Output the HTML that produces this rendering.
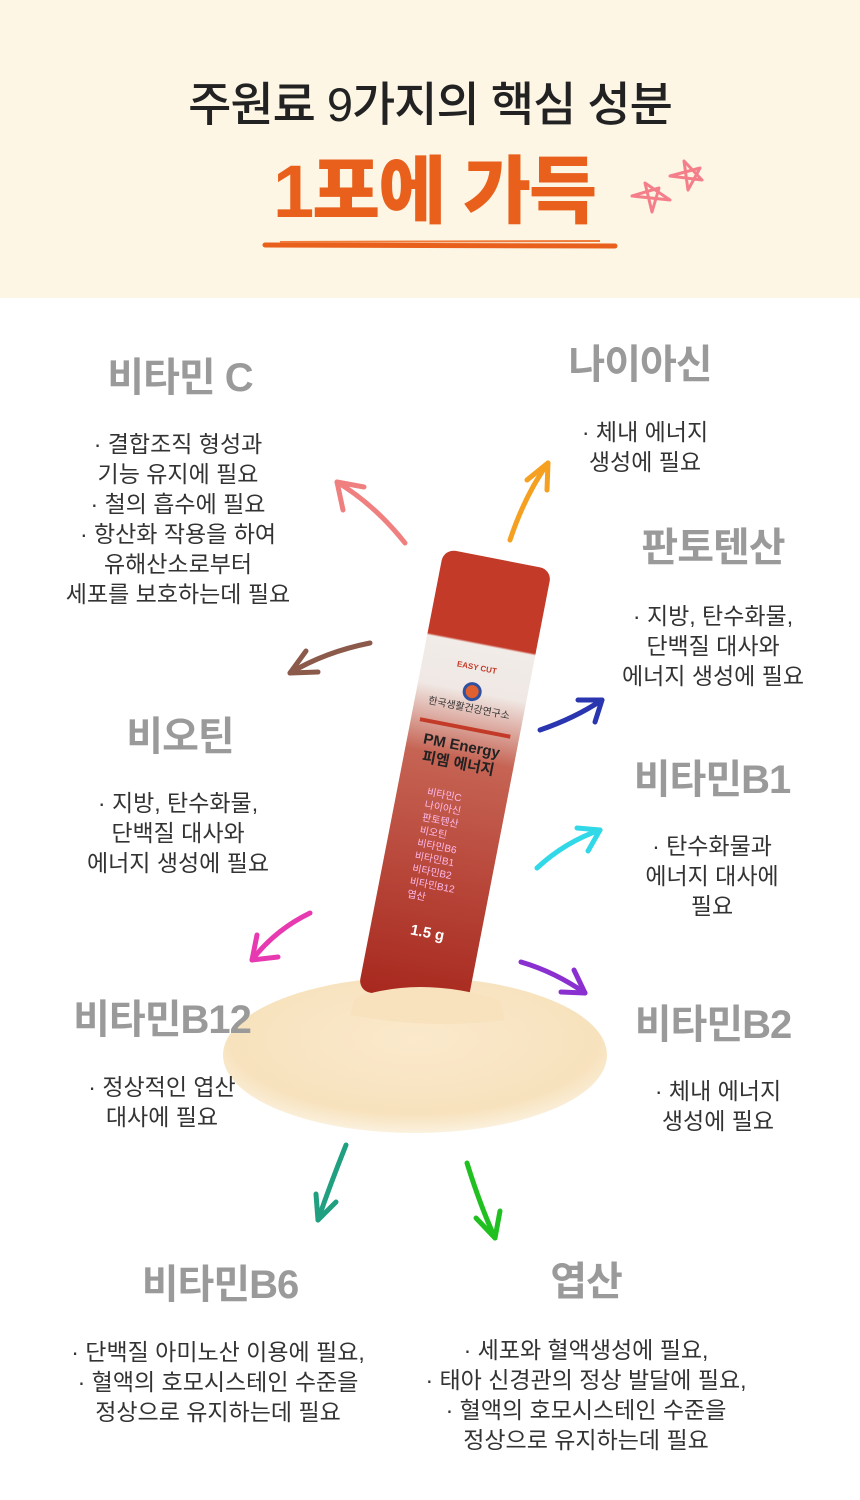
<!DOCTYPE html>
<html><head><meta charset="utf-8"><style>
html,body{margin:0;padding:0}
body{width:860px;height:1500px;position:relative;background:#fff;overflow:hidden;font-family:"Liberation Sans","Noto Sans CJK KR",sans-serif}
.hd{position:absolute;left:0;top:0;width:860px;height:298px;background:#fdf6e5}
.t{position:absolute;width:400px;text-align:center;white-space:nowrap}
.lb{font-size:40px;font-weight:bold;color:#9a9a9a;line-height:44px;letter-spacing:-1px}
.bd{font-size:23px;color:#333;line-height:30px}
</style></head><body>
<div class="hd"></div>
<div class="t" style="left:130px;width:600px;top:78px;font-size:47px;color:#222;line-height:54px;font-weight:500;letter-spacing:-1px">주원료 9가지의 핵심 성분</div>
<div class="t" style="left:234px;top:150px;font-size:74px;font-weight:900;color:#e8601c;line-height:84px;letter-spacing:-2px">1포에 가득</div>
<svg width="860" height="1500" style="position:absolute;left:0;top:0">
<path d="M265 245 L615 246" stroke="#e8601c" stroke-width="5" stroke-linecap="round"/>
<path d="M280 242 L600 241" stroke="#ef7a3a" stroke-width="2"/>
<g fill="none" stroke="#f47f8a" stroke-width="3" stroke-linecap="round" stroke-linejoin="round">
<path d="M652 212 L645 183 L670 200 L632 196 L659 188 Z"/>
<path d="M688 190 L684 161 L702 180 L670 176 L700 168 Z"/>
</g>
<defs>
<radialGradient id="pw" cx="50%" cy="40%" r="60%"><stop offset="0" stop-color="#fbe9cc"/><stop offset="0.8" stop-color="#f7e2bd"/><stop offset="1" stop-color="#fbf1de"/></radialGradient>
<linearGradient id="st" x1="0" y1="0" x2="0" y2="1"><stop offset="0" stop-color="#c43a28"/><stop offset="0.19" stop-color="#c43a28"/><stop offset="0.195" stop-color="#f1ece8"/><stop offset="0.3" stop-color="#f0e8e4"/><stop offset="0.45" stop-color="#c66454"/><stop offset="1" stop-color="#a8281e"/></linearGradient>
</defs>
<ellipse cx="415" cy="1055" rx="192" ry="78" fill="url(#pw)"/>
<g transform="translate(455 780) rotate(11)">
<rect x="-55" y="-225" width="110" height="450" rx="12" fill="url(#st)"/>
<rect x="-46" y="-55" width="92" height="4" fill="#c43a28"/>
<circle cx="0" cy="-90" r="8" fill="#e06030" stroke="#3050a0" stroke-width="3"/>
<text x="0" y="-112" font-size="8" fill="#c43a28" text-anchor="middle" font-weight="bold">EASY CUT</text>
<text x="0" y="-70" font-size="10" fill="#333" text-anchor="middle">한국생활건강연구소</text>
<text x="0" y="-30" font-size="15" fill="#222" text-anchor="middle" font-weight="bold">PM Energy</text>
<text x="0" y="-12" font-size="15" fill="#222" text-anchor="middle" font-weight="bold">피엠 에너지</text>
<g font-size="10" fill="#fbe" text-anchor="start">
<text x="-25" y="20">비타민C</text><text x="-25" y="33">나이아신</text><text x="-25" y="46">판토텐산</text><text x="-25" y="59">비오틴</text><text x="-25" y="72">비타민B6</text><text x="-25" y="85">비타민B1</text><text x="-25" y="98">비타민B2</text><text x="-25" y="111">비타민B12</text><text x="-25" y="124">엽산</text>
</g>
<text x="-15" y="160" font-size="15" fill="#fff" font-weight="bold">1.5 g</text>
</g>
<path d="M355 998 Q420 975 500 1000 L505 1020 Q430 1030 350 1015 Z" fill="#f7e2bd"/>
<g fill="none" stroke-width="5" stroke-linecap="round" stroke-linejoin="round">
<g stroke="#f08080"><path d="M405 543 Q375 505 337 482"/><path d="M337 482 L343 510 M337 482 L364 487"/></g>
<g stroke="#f5a020"><path d="M510 540 Q525 495 548 463"/><path d="M548 463 L527 480 M548 463 L547 490"/></g>
<g stroke="#8b5a4a"><path d="M370 643 Q325 652 290 673"/><path d="M290 673 L306 651 M290 673 L318 672"/></g>
<g stroke="#2a35b0"><path d="M540 730 Q575 718 602 700"/><path d="M602 700 L578 700 M602 700 L595 722"/></g>
<g stroke="#30d8e8"><path d="M537 868 Q565 842 600 830"/><path d="M600 830 L577 828 M600 830 L588 851"/></g>
<g stroke="#e83ab0"><path d="M310 913 Q275 930 252 960"/><path d="M252 960 L257 935 M252 960 L278 957"/></g>
<g stroke="#8a30d0"><path d="M521 962 Q555 972 585 993"/><path d="M585 993 L574 970 M585 993 L561 992"/></g>
<g stroke="#20a080"><path d="M346 1145 Q330 1185 318 1220"/><path d="M318 1220 L316 1194 M318 1220 L336 1202"/></g>
<g stroke="#20c020"><path d="M467 1163 Q480 1205 495 1238"/><path d="M495 1238 L476 1218 M495 1238 L500 1211"/></g>
</g>
</svg>
<div class="t lb" style="left:-20px;top:356px">비타민 C</div>
<div class="t bd" style="left:-22px;top:429px">· 결합조직 형성과<br>기능 유지에 필요<br>· 철의 흡수에 필요<br>· 항산화 작용을 하여<br>유해산소로부터<br>세포를 보호하는데 필요</div>
<div class="t lb" style="left:440px;top:343px">나이아신</div>
<div class="t bd" style="left:445px;top:417px">· 체내 에너지<br>생성에 필요</div>
<div class="t lb" style="left:513px;top:526px">판토텐산</div>
<div class="t bd" style="left:513px;top:601px">· 지방, 탄수화물,<br>단백질 대사와<br>에너지 생성에 필요</div>
<div class="t lb" style="left:-20px;top:715px">비오틴</div>
<div class="t bd" style="left:-22px;top:788px">· 지방, 탄수화물,<br>단백질 대사와<br>에너지 생성에 필요</div>
<div class="t lb" style="left:512px;top:758px">비타민B1</div>
<div class="t bd" style="left:512px;top:831px">· 탄수화물과<br>에너지 대사에<br>필요</div>
<div class="t lb" style="left:-38px;top:998px">비타민B12</div>
<div class="t bd" style="left:-38px;top:1072px">· 정상적인 엽산<br>대사에 필요</div>
<div class="t lb" style="left:513px;top:1003px">비타민B2</div>
<div class="t bd" style="left:518px;top:1076px">· 체내 에너지<br>생성에 필요</div>
<div class="t lb" style="left:20px;top:1263px">비타민B6</div>
<div class="t bd" style="left:18px;top:1337px">· 단백질 아미노산 이용에 필요,<br>· 혈액의 호모시스테인 수준을<br>정상으로 유지하는데 필요</div>
<div class="t lb" style="left:386px;top:1260px">엽산</div>
<div class="t bd" style="left:386px;top:1335px">· 세포와 혈액생성에 필요,<br>· 태아 신경관의 정상 발달에 필요,<br>· 혈액의 호모시스테인 수준을<br>정상으로 유지하는데 필요</div>
</body></html>
